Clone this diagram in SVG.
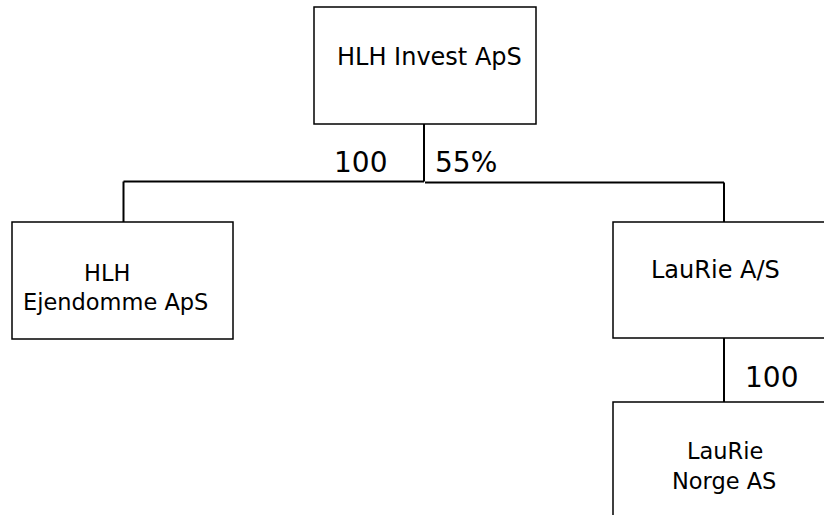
<svg xmlns="http://www.w3.org/2000/svg" width="824" height="515" viewBox="0 0 824 515">
<style>
.box{fill:#fff;stroke:#000;stroke-width:1.5}
.con{fill:none;stroke:#000;stroke-width:2}
.t{font-family:"DejaVu Sans",Verdana,sans-serif;fill:#000}
.n{font-size:24px}
.m{font-size:22.5px}
.num{font-size:28px}
</style>
<rect width="824" height="515" fill="#fff"/>
<g id="connectors">
<path class="con" d="M424 124 V181.5 M123.5 181.5 H424 M425 182.5 H724 M123.5 181.5 V222 M724 182.5 V222 M724 338 V403"/>
</g>
<g id="labels">
<text class="t num" x="334" y="172">100</text>
<text class="t num" x="435" y="172">55%</text>
<text class="t num" x="745" y="387">100</text>
</g>
<g id="node-hlh-invest">
<rect class="box" x="314" y="7" width="222" height="117"/>
<text class="t n" x="337" y="65">HLH Invest ApS</text>
</g>
<g id="node-hlh-ejendomme">
<rect class="box" x="12" y="222" width="221" height="117"/>
<text class="t m" x="84" y="281">HLH</text>
<text class="t m" x="23" y="310">Ejendomme ApS</text>
</g>
<g id="node-laurie-as">
<rect class="box" x="613" y="222" width="220" height="116"/>
<text class="t n" x="651" y="278">LauRie A/S</text>
</g>
<g id="node-laurie-norge">
<rect class="box" x="613" y="402" width="220" height="130"/>
<text class="t m" x="687" y="459">LauRie</text>
<text class="t m" x="672" y="489">Norge AS</text>
</g>
</svg>
